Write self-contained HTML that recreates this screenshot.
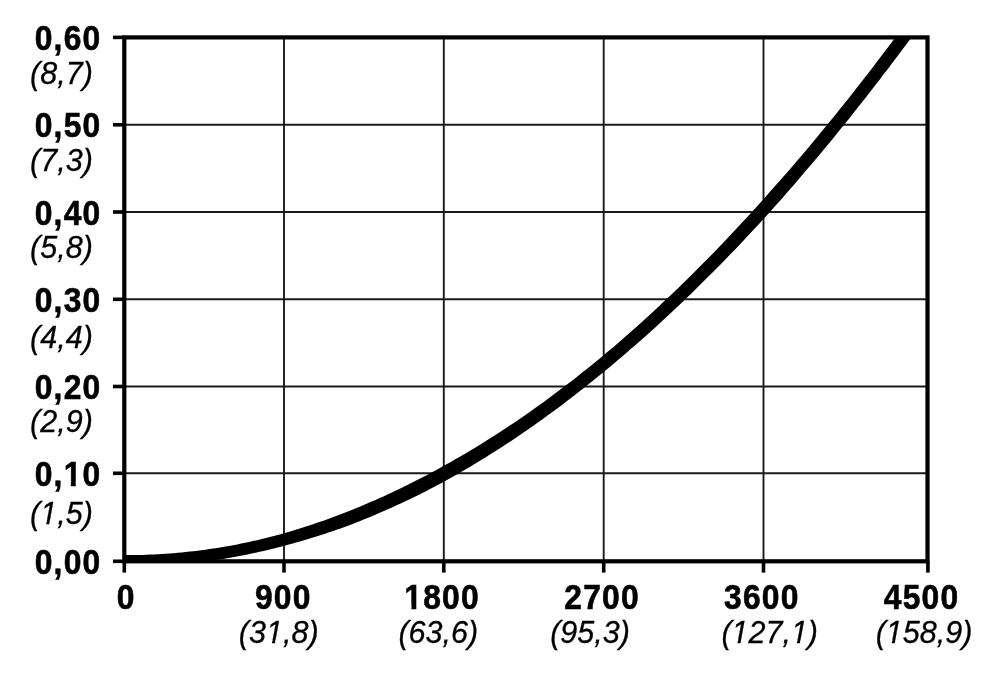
<!DOCTYPE html>
<html lang="en">
<head>
<meta charset="utf-8">
<title>Chart</title>
<style>
html,body{margin:0;padding:0;background:#fff;}
body{width:1000px;height:681px;overflow:hidden;}
svg{display:block;filter:blur(0.55px);}
text{font-family:"Liberation Sans",Arial,Helvetica,sans-serif;fill:#000;white-space:pre;}
.b{font-weight:700;font-size:34.9px;letter-spacing:1.374px;stroke:#000;stroke-width:0.6;}
.i{font-style:italic;font-size:30.5px;stroke:#000;stroke-width:0.3;}
.m{fill:#fff;stroke:none;}
</style>
</head>
<body>
<svg width="1000" height="681" viewBox="0 0 1000 681">
<rect width="1000" height="681" fill="#fff"/>
<defs><clipPath id="c"><rect x="124.3" y="37.4" width="803.2" height="523.9"/></clipPath></defs>
<g stroke="#1a1a1a" stroke-width="1.9" fill="none">
<line x1="284.0" y1="37.4" x2="284.0" y2="561.3"/>
<line x1="443.8" y1="37.4" x2="443.8" y2="561.3"/>
<line x1="603.7" y1="37.4" x2="603.7" y2="561.3"/>
<line x1="763.5" y1="37.4" x2="763.5" y2="561.3"/>
<line x1="124.3" y1="124.8" x2="927.5" y2="124.8"/>
<line x1="124.3" y1="212.0" x2="927.5" y2="212.0"/>
<line x1="124.3" y1="299.3" x2="927.5" y2="299.3"/>
<line x1="124.3" y1="386.5" x2="927.5" y2="386.5"/>
<line x1="124.3" y1="473.3" x2="927.5" y2="473.3"/>
</g>
<path clip-path="url(#c)" d="M118.3 555.1 L122.3 555.1 L126.3 555.1 L130.3 555.1 L134.2 555.1 L138.2 555.0 L142.1 554.9 L146.1 554.8 L150.1 554.6 L154.0 554.5 L158.0 554.3 L161.9 554.0 L165.9 553.8 L169.9 553.5 L173.8 553.2 L177.8 552.8 L181.7 552.5 L185.7 552.1 L189.7 551.6 L193.6 551.2 L197.6 550.7 L201.5 550.2 L205.5 549.7 L209.5 549.1 L213.4 548.5 L217.4 547.9 L221.3 547.3 L225.3 546.6 L229.3 545.9 L233.2 545.2 L237.2 544.4 L241.1 543.6 L245.1 542.8 L249.1 542.0 L253.0 541.1 L257.0 540.2 L260.9 539.3 L264.9 538.3 L268.9 537.3 L272.8 536.3 L276.8 535.3 L280.7 534.2 L284.7 533.1 L288.6 531.9 L292.6 530.8 L296.5 529.6 L300.5 528.3 L304.4 527.1 L308.4 525.8 L312.3 524.5 L316.3 523.1 L320.2 521.8 L324.2 520.4 L328.1 518.9 L332.1 517.5 L336.0 516.0 L340.0 514.5 L343.9 513.0 L347.9 511.5 L351.8 509.9 L355.8 508.3 L359.8 506.7 L363.7 505.0 L367.7 503.3 L371.6 501.6 L375.6 499.9 L379.5 498.1 L383.5 496.4 L387.5 494.6 L391.4 492.7 L395.4 490.8 L399.3 488.9 L403.3 487.0 L407.3 485.1 L411.2 483.1 L415.2 481.1 L419.1 479.1 L423.1 477.0 L427.1 474.9 L431.0 472.8 L435.0 470.7 L439.0 468.5 L442.9 466.3 L446.9 464.1 L450.9 461.9 L454.8 459.6 L458.8 457.3 L462.8 455.0 L466.8 452.7 L470.7 450.3 L474.7 447.9 L478.7 445.5 L482.7 443.0 L486.6 440.5 L490.6 438.0 L494.6 435.5 L498.6 432.9 L502.6 430.3 L506.5 427.7 L510.5 425.1 L514.5 422.4 L518.5 419.7 L522.5 417.0 L526.5 414.2 L530.4 411.4 L534.4 408.6 L538.4 405.7 L542.4 402.9 L546.4 400.0 L550.4 397.1 L554.3 394.1 L558.3 391.1 L562.3 388.1 L566.3 385.1 L570.3 382.0 L574.3 378.9 L578.3 375.8 L582.2 372.6 L586.2 369.5 L590.2 366.2 L594.2 363.0 L598.2 359.7 L602.2 356.4 L606.1 353.1 L610.1 349.8 L614.1 346.4 L618.1 343.0 L622.1 339.5 L626.0 336.1 L630.0 332.6 L634.0 329.0 L638.0 325.5 L641.9 321.9 L645.9 318.3 L649.9 314.7 L653.9 311.0 L657.9 307.3 L661.8 303.6 L665.8 299.8 L669.8 296.0 L673.8 292.2 L677.8 288.4 L681.7 284.6 L685.7 280.7 L689.7 276.8 L693.7 272.8 L697.7 268.8 L701.6 264.8 L705.6 260.8 L709.6 256.8 L713.6 252.7 L717.6 248.6 L721.5 244.4 L725.5 240.3 L729.5 236.1 L733.5 231.8 L737.5 227.6 L741.4 223.3 L745.4 219.0 L749.4 214.7 L753.4 210.3 L757.4 205.9 L761.4 201.5 L765.4 197.1 L769.3 192.6 L773.3 188.1 L777.3 183.6 L781.3 179.1 L785.3 174.5 L789.3 169.9 L793.3 165.2 L797.3 160.6 L801.3 155.9 L805.3 151.2 L809.3 146.4 L813.2 141.7 L817.2 136.9 L821.2 132.0 L825.2 127.2 L829.2 122.3 L833.2 117.4 L837.2 112.5 L841.2 107.5 L845.2 102.5 L849.2 97.5 L853.2 92.4 L857.2 87.3 L861.2 82.2 L865.2 77.1 L869.2 71.9 L873.2 66.8 L877.1 61.5 L881.1 56.3 L885.1 51.0 L889.1 45.7 L893.1 40.4 L897.1 35.0 L901.1 29.6 L905.1 24.2 L909.1 18.8 L913.1 13.3 L917.1 7.8 L921.1 2.3 L925.1 -3.3 L929.0 -8.9 L933.0 -14.5 L937.0 -20.1 L947.6 -12.7 L943.6 -7.0 L939.6 -1.4 L935.5 4.2 L931.5 9.8 L927.5 15.4 L923.5 20.9 L919.5 26.4 L915.5 31.9 L911.5 37.3 L907.5 42.7 L903.5 48.1 L899.5 53.5 L895.5 58.8 L891.5 64.1 L887.5 69.4 L883.4 74.6 L879.4 79.9 L875.4 85.1 L871.4 90.2 L867.4 95.4 L863.4 100.5 L859.4 105.6 L855.4 110.6 L851.4 115.7 L847.4 120.7 L843.4 125.6 L839.4 130.6 L835.4 135.5 L831.4 140.4 L827.4 145.2 L823.4 150.1 L819.3 154.9 L815.3 159.7 L811.3 164.4 L807.3 169.1 L803.3 173.8 L799.3 178.5 L795.3 183.2 L791.3 187.8 L787.3 192.3 L783.3 196.9 L779.3 201.4 L775.2 205.9 L771.2 210.4 L767.2 214.9 L763.2 219.3 L759.2 223.7 L755.2 228.0 L751.2 232.3 L747.1 236.6 L743.1 240.9 L739.1 245.2 L735.1 249.4 L731.1 253.6 L727.0 257.7 L723.0 261.9 L719.0 266.0 L715.0 270.1 L711.0 274.1 L706.9 278.1 L702.9 282.1 L698.9 286.1 L694.9 290.0 L690.9 294.0 L686.8 297.8 L682.8 301.7 L678.8 305.5 L674.8 309.3 L670.8 313.1 L666.7 316.8 L662.7 320.6 L658.7 324.3 L654.7 327.9 L650.7 331.6 L646.6 335.2 L642.6 338.7 L638.6 342.3 L634.6 345.8 L630.5 349.3 L626.5 352.8 L622.5 356.2 L618.5 359.6 L614.5 363.0 L610.4 366.4 L606.4 369.7 L602.4 373.0 L598.4 376.3 L594.4 379.6 L590.4 382.8 L586.3 386.0 L582.3 389.2 L578.3 392.3 L574.3 395.5 L570.3 398.6 L566.3 401.6 L562.3 404.7 L558.2 407.7 L554.2 410.7 L550.2 413.6 L546.2 416.6 L542.2 419.5 L538.2 422.3 L534.1 425.2 L530.1 428.0 L526.1 430.8 L522.1 433.5 L518.1 436.3 L514.1 439.0 L510.0 441.7 L506.0 444.3 L502.0 446.9 L498.0 449.5 L494.0 452.1 L489.9 454.6 L485.9 457.2 L481.9 459.6 L477.9 462.1 L473.8 464.5 L469.8 466.9 L465.8 469.3 L461.8 471.6 L457.7 474.0 L453.7 476.2 L449.7 478.5 L445.6 480.7 L441.6 482.9 L437.6 485.1 L433.5 487.2 L429.5 489.3 L425.5 491.4 L421.4 493.4 L417.4 495.4 L413.3 497.4 L409.3 499.4 L405.3 501.3 L401.2 503.2 L397.2 505.1 L393.1 507.0 L389.1 508.8 L385.1 510.6 L381.0 512.3 L377.0 514.1 L372.9 515.8 L368.9 517.5 L364.8 519.1 L360.8 520.7 L356.8 522.3 L352.7 523.9 L348.7 525.4 L344.6 526.9 L340.6 528.4 L336.5 529.8 L332.5 531.2 L328.4 532.6 L324.4 533.9 L320.3 535.3 L316.3 536.5 L312.2 537.8 L308.2 539.0 L304.1 540.2 L300.1 541.4 L296.0 542.6 L292.0 543.7 L287.9 544.8 L283.9 545.9 L279.8 546.9 L275.8 547.9 L271.7 548.9 L267.7 549.9 L263.7 550.9 L259.6 551.8 L255.6 552.7 L251.5 553.6 L247.5 554.4 L243.5 555.2 L239.4 556.0 L235.4 556.8 L231.3 557.5 L227.3 558.2 L223.3 558.9 L219.2 559.6 L215.2 560.2 L211.1 560.8 L207.1 561.4 L203.1 561.9 L199.0 562.4 L195.0 562.9 L190.9 563.4 L186.9 563.8 L182.9 564.2 L178.8 564.6 L174.8 564.9 L170.7 565.2 L166.7 565.5 L162.7 565.8 L158.6 566.0 L154.6 566.2 L150.5 566.4 L146.5 566.6 L142.5 566.7 L138.4 566.8 L134.4 566.9 L130.3 566.9 L126.3 566.9 L122.3 566.9 L118.3 566.9Z" fill="#000"/>
<rect x="124.3" y="37.4" width="803.2" height="523.9" fill="none" stroke="#000" stroke-width="4.2"/>
<g stroke="#000" stroke-width="3.6" fill="none">
<line x1="113" y1="37.4" x2="124.3" y2="37.4"/>
<line x1="113" y1="124.8" x2="124.3" y2="124.8"/>
<line x1="113" y1="212.0" x2="124.3" y2="212.0"/>
<line x1="113" y1="299.3" x2="124.3" y2="299.3"/>
<line x1="113" y1="386.5" x2="124.3" y2="386.5"/>
<line x1="113" y1="473.3" x2="124.3" y2="473.3"/>
<line x1="113" y1="561.3" x2="124.3" y2="561.3"/>
<line x1="124.3" y1="561.3" x2="124.3" y2="572.6"/>
<line x1="284.0" y1="561.3" x2="284.0" y2="572.6"/>
<line x1="443.8" y1="561.3" x2="443.8" y2="572.6"/>
<line x1="603.7" y1="561.3" x2="603.7" y2="572.6"/>
<line x1="763.5" y1="561.3" x2="763.5" y2="572.6"/>
<line x1="927.9" y1="561.3" x2="927.9" y2="572.6"/>
</g>
<text class="b" transform="translate(34.71 50) scale(0.910 1)">0,60</text>
<text class="i" x="30.09" y="84">(8,7)</text>
<text class="b" transform="translate(34.71 137) scale(0.910 1)">0,50</text>
<text class="i" x="30.09" y="171">(7,3)</text>
<text class="b" transform="translate(34.71 225) scale(0.910 1)">0,40</text>
<text class="i" x="30.09" y="258">(5,8)</text>
<text class="b" transform="translate(34.71 312) scale(0.910 1)">0,30</text>
<text class="i" x="30.09" y="348">(4,4)</text>
<text class="b" transform="translate(34.71 399) scale(0.910 1)">0,20</text>
<text class="i" x="30.09" y="432">(2,9)</text>
<text class="b" transform="translate(34.71 486) scale(0.910 1)">0,10</text>
<polygon class="m" points="64.24,487.87 64.24,481.57 70.84,481.57 70.84,487.87"/>
<polygon class="m" points="75.74,487.87 75.74,481.57 81.53,481.57 81.53,487.87"/>
<text class="i" x="30.09" y="524">(1,5)</text>
<polygon class="m" points="39.33,525.79 40.30,520.80 46.86,520.80 45.89,525.79"/>
<polygon class="m" points="48.88,525.79 49.85,520.80 55.96,520.80 54.99,525.79"/>
<text class="b" transform="translate(34.71 574) scale(0.910 1)">0,00</text>
<text class="b" transform="translate(116.67 609) scale(0.910 1)">0</text>
<text class="b" transform="translate(254.96 609) scale(0.910 1)">900</text>
<text class="i" x="238.86" y="643">(31,8)</text>
<polygon class="m" points="265.07,644.79 266.04,639.80 272.59,639.80 271.62,644.79"/>
<polygon class="m" points="274.62,644.79 275.59,639.80 281.70,639.80 280.73,644.79"/>
<text class="b" transform="translate(404.30 609) scale(0.910 1)">1800</text>
<polygon class="m" points="404.84,610.87 404.84,604.57 411.44,604.57 411.44,610.87"/>
<polygon class="m" points="416.34,610.87 416.34,604.57 422.13,604.57 422.13,610.87"/>
<text class="i" x="398.46" y="643">(63,6)</text>
<text class="b" transform="translate(564.30 609) scale(0.910 1)">2700</text>
<text class="i" x="550.16" y="643">(95,3)</text>
<text class="b" transform="translate(724.00 609) scale(0.910 1)">3600</text>
<text class="i" x="721.38" y="643">(127,1)</text>
<polygon class="m" points="730.63,644.79 731.60,639.80 738.15,639.80 737.18,644.79"/>
<polygon class="m" points="740.18,644.79 741.15,639.80 747.25,639.80 746.28,644.79"/>
<polygon class="m" points="789.99,644.79 790.96,639.80 797.51,639.80 796.54,644.79"/>
<polygon class="m" points="799.54,644.79 800.51,639.80 806.61,639.80 805.64,644.79"/>
<text class="b" transform="translate(883.80 609) scale(0.910 1)">4500</text>
<text class="i" x="875.68" y="643">(158,9)</text>
<polygon class="m" points="884.93,644.79 885.90,639.80 892.45,639.80 891.48,644.79"/>
<polygon class="m" points="894.48,644.79 895.45,639.80 901.55,639.80 900.58,644.79"/>
</svg>
</body>
</html>
